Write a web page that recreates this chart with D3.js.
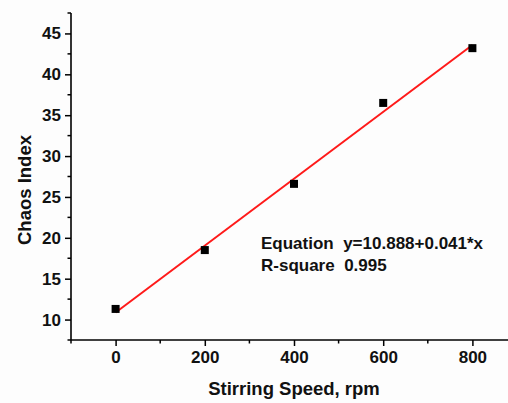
<!DOCTYPE html>
<html>
<head>
<meta charset="utf-8">
<script src="https://cdn.jsdelivr.net/npm/d3@7"></script>
<style>
  html, body { margin: 0; padding: 0; background: #fdfdfd; }
  svg { display: block; }
  text { font-family: "Liberation Sans", Arial, sans-serif; font-weight: bold; fill: #111; }
</style>
</head>
<body>
<script>
// Data
const speeds = [0, 200, 400, 600, 800];
const chaosIndex = [11.3, 18.5, 26.6, 36.5, 43.2];
const xTicks = [0, 200, 400, 600, 800];
const xMinorTicks = [-100, 100, 300, 500, 700];
const yTicks = [10, 15, 20, 25, 30, 35, 40, 45];
const yMinorTicks = [7.5, 12.5, 17.5, 22.5, 27.5, 32.5, 37.5, 42.5, 47.5];
const fitRange = [0, 800];
const annotationLines = ["Equation  y=10.888+0.041*x", "R-square  0.995"];

const W = 508, H = 403;
const svg = d3.select("body").append("svg").attr("width", W).attr("height", H);

const x = d3.scaleLinear().domain([-100, 900]).range([71, 517]);
const y = d3.scaleLinear().domain([7.5, 47.5]).range([340, 13]);

// fit line (least squares from data)
const mx = d3.mean(speeds), my = d3.mean(chaosIndex);
const slope = d3.sum(speeds, (s, i) => (s - mx) * (chaosIndex[i] - my)) / d3.sum(speeds, s => (s - mx) * (s - mx));
const intercept = my - slope * mx;

svg.append("line")
  .attr("x1", x(fitRange[0])).attr("y1", y(intercept + slope * fitRange[0]))
  .attr("x2", x(fitRange[1])).attr("y2", y(intercept + slope * fitRange[1]))
  .attr("stroke", "#ff1a1a").attr("stroke-width", 2);

// points
svg.selectAll("rect.pt").data(speeds).join("rect")
  .attr("class", "pt")
  .attr("x", (d) => x(d) - 4)
  .attr("y", (d, i) => y(chaosIndex[i]) - 4)
  .attr("width", 8).attr("height", 8)
  .attr("fill", "#000");

// axes
const xAxis = d3.axisBottom(x).tickValues(xTicks).tickSize(6).tickPadding(5).tickFormat(d3.format("d"));
const gx = svg.append("g").attr("transform", "translate(0,340)").call(xAxis);
gx.append("g").selectAll("line").data(xMinorTicks).join("line")
  .attr("x1", d => x(d)).attr("x2", d => x(d)).attr("y1", 0).attr("y2", 3.5)
  .attr("stroke", "#000").attr("stroke-width", 1.5);

const yAxis = d3.axisLeft(y).tickValues(yTicks).tickSize(6).tickPadding(4);
const gy = svg.append("g").attr("transform", "translate(71,0)").call(yAxis);
gy.append("g").selectAll("line").data(yMinorTicks).join("line")
  .attr("y1", d => y(d)).attr("y2", d => y(d)).attr("x1", 0).attr("x2", -3.5)
  .attr("stroke", "#000").attr("stroke-width", 1.5);

[gx, gy].forEach(g => {
  g.attr("font-family", null).attr("font-size", null);
  g.select(".domain").attr("stroke", "#000").attr("stroke-width", 1.6);
  g.selectAll(".tick line").attr("stroke", "#000").attr("stroke-width", 1.5);
  g.selectAll(".tick text").style("font-size", "17px").attr("fill", "#111");
});
gx.select(".domain").attr("d", `M${x(-100)},0H${x(900)}`);
gy.select(".domain").attr("d", `M0,${y(7.5)}V${y(47.5)}`);

// axis titles
svg.append("text")
  .attr("x", 294).attr("y", 395)
  .attr("text-anchor", "middle")
  .style("font-size", "18.5px")
  .text("Stirring Speed, rpm");

svg.append("text")
  .attr("transform", "translate(31,190) rotate(-90)")
  .attr("text-anchor", "middle")
  .style("font-size", "18.5px")
  .text("Chaos Index");

// annotation
svg.selectAll("text.ann").data(annotationLines).join("text")
  .attr("class", "ann")
  .attr("x", 261)
  .attr("y", (d, i) => 248.5 + i * 22.5)
  .style("font-size", "17px")
  .style("white-space", "pre")
  .attr("xml:space", "preserve")
  .text(d => d);
</script>
</body>
</html>
